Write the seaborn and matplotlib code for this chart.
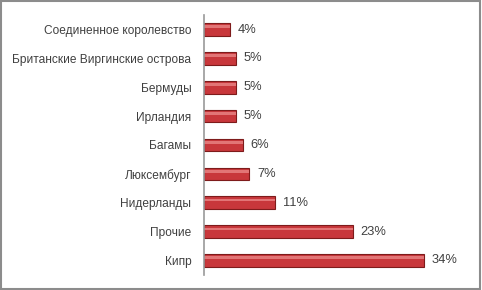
import matplotlib
matplotlib.use('Agg')
import matplotlib.pyplot as plt
import seaborn as sns
import pandas as pd
from matplotlib.patches import Rectangle

# Данные диаграммы (сверху вниз)
strany = ['Соединенное королевство', 'Британские Виргинские острова', 'Бермуды',
          'Ирландия', 'Багамы', 'Люксембург', 'Нидерланды', 'Прочие', 'Кипр']
doli = [4, 5, 5, 5, 6, 7, 11, 23, 34]
podpisi = ['4%', '5%', '5%', '5%', '6%', '7%', '11%', '23%', '34%']

df = pd.DataFrame({'Страна': strany, 'Доля': doli})

sns.set_theme(style='white')
plt.rcParams['font.family'] = ['Liberation Sans', 'DejaVu Sans']

fig = plt.figure(figsize=(4.82, 2.90), dpi=100)
ax = fig.add_axes([0.423, 0.052, 0.55, 0.896])

sns.barplot(data=df, x='Доля', y='Страна', ax=ax, color='#C8373B',
            width=0.44, edgecolor='#7E1B1B', linewidth=0.8, saturation=1)

# подсветка верхней части бара (имитация объёма)
for p in list(ax.patches):
    ax.add_patch(Rectangle((p.get_x(), p.get_y() + p.get_height() * 0.18),
                           p.get_width(), p.get_height() * 0.22,
                           facecolor='#E98585', edgecolor='none', alpha=0.8))

for i, (v, t) in enumerate(zip(doli, podpisi)):
    ax.text(v + 1.2, i, t, va='center', ha='left', fontsize=9.3, color='#404040')

ax.set_xlim(0, 41)
ax.set_ylim(len(strany) - 0.5, -0.5)
ax.set_xlabel('')
ax.set_ylabel('')
ax.set_xticks([])
ax.tick_params(axis='y', length=0, pad=9, labelsize=8.6, labelcolor='#404040')
for s in ['top', 'right', 'bottom']:
    ax.spines[s].set_visible(False)
ax.spines['left'].set_color('#999999')
ax.spines['left'].set_linewidth(1.2)

# рамка вокруг области диаграммы
fig.patches.append(Rectangle((0.002, 0.003), 0.994, 0.992, transform=fig.transFigure,
                             fill=False, edgecolor='#8C8C8C', linewidth=1.5))

fig.savefig('out.png', dpi=100)
